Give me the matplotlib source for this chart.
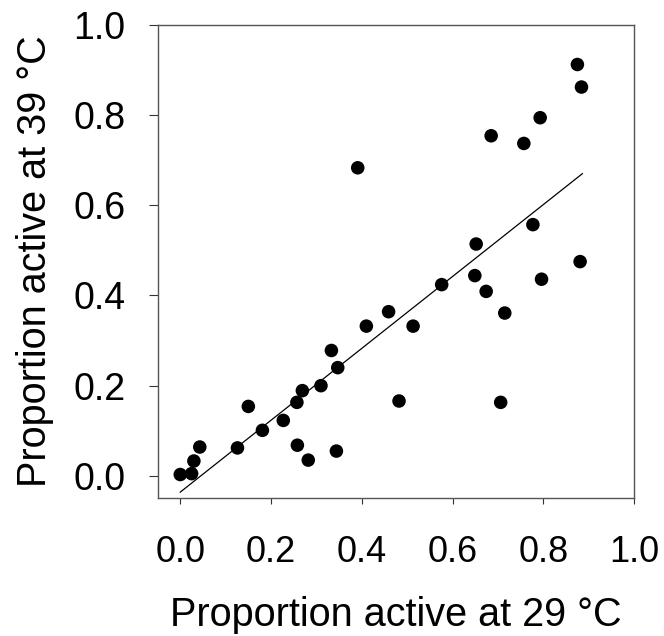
import matplotlib.pyplot as plt

plt.rcParams['font.family'] = ['Liberation Sans', 'DejaVu Sans']

# proportion active at 29 °C (x) and at 39 °C (y)
active_29 = [0.000, 0.025, 0.030, 0.043, 0.126, 0.150, 0.181, 0.227, 0.258, 0.257,
             0.269, 0.282, 0.310, 0.333, 0.344, 0.347, 0.391, 0.410, 0.459, 0.482,
             0.513, 0.576, 0.652, 0.649, 0.674, 0.685, 0.706, 0.715, 0.757, 0.777,
             0.793, 0.796, 0.875, 0.884, 0.881]
active_39 = [0.003, 0.005, 0.033, 0.064, 0.062, 0.154, 0.101, 0.123, 0.068, 0.163,
             0.189, 0.035, 0.200, 0.278, 0.055, 0.240, 0.683, 0.332, 0.364, 0.166,
             0.332, 0.424, 0.514, 0.444, 0.409, 0.754, 0.163, 0.361, 0.737, 0.557,
             0.794, 0.436, 0.912, 0.862, 0.475]

# regression line end points
fit_x = [0.000, 0.886]
fit_y = [-0.036, 0.670]

ticks = [0.0, 0.2, 0.4, 0.6, 0.8, 1.0]

fig = plt.figure(figsize=(6.64, 6.36), dpi=100)
ax = fig.add_axes([0.238, 0.217, 0.717, 0.744])

ax.plot(fit_x, fit_y, color='black', linewidth=0.9, zorder=2)
ax.scatter(active_29, active_39, s=95, color='black', edgecolors='none', zorder=3)

ax.set_xlim(-0.049, 1.0)
ax.set_ylim(-0.049, 1.0)
ax.set_xticks(ticks)
ax.set_yticks(ticks)
ax.set_xticklabels([f"{t:.1f}" for t in ticks])
ax.set_yticklabels([f"{t:.1f}" for t in ticks])

for sp in ax.spines.values():
    sp.set_color('#555555')
    sp.set_linewidth(1.0)

ax.tick_params(axis='x', direction='out', length=4.5, width=0.8, color='#333333',
               labelsize=26, pad=22)
ax.tick_params(axis='y', direction='out', length=6.5, width=0.8, color='#333333',
               labelsize=27, pad=17)

ax.set_xlabel('Proportion active at 29 °C', fontsize=28.5, labelpad=19)
ax.set_ylabel('Proportion active at 39 °C', fontsize=28.5, labelpad=14)

fig.savefig('out.png', dpi=100)
